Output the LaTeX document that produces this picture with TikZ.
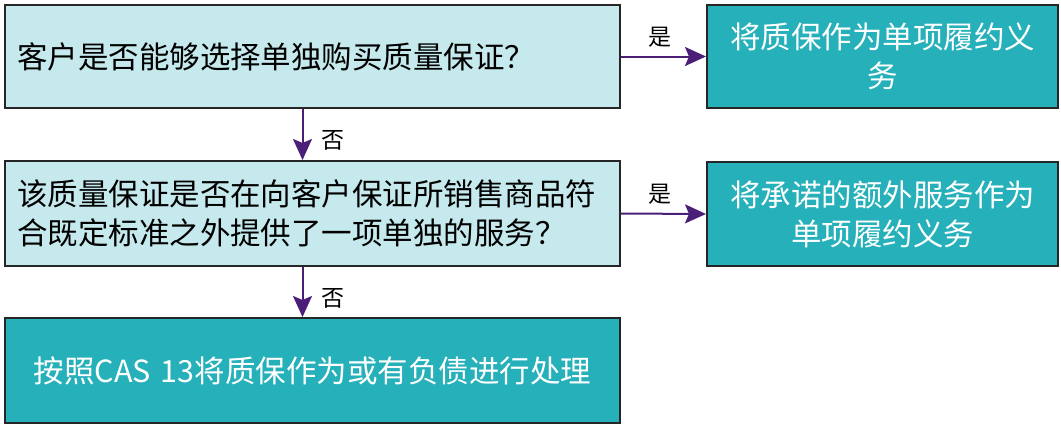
\documentclass[tikz,border=0pt]{standalone}
\usepackage{fontspec}
\setmainfont{Noto Sans CJK SC}
\usetikzlibrary{arrows.meta}
\definecolor{qfill}{RGB}{197,233,236}
\definecolor{afill}{RGB}{38,176,186}
\definecolor{linkc}{RGB}{75,30,120}
\begin{document}
\begin{tikzpicture}[x=1pt,y=-1pt,
			box/.style={draw=black!85, line width=2pt, inner xsep=12pt, inner ysep=0pt, font=\fontsize{30.5}{39}\selectfont},
			qbox/.style={box, fill=qfill, text=black, minimum width=615, text width=591, align=left},
			abox/.style={box, fill=afill, text=white, minimum width=351, text width=327, align=center},
			link/.style={draw=linkc, line width=2pt, -{Stealth[length=21pt,width=19pt,inset=4pt]}},
			lbl/.style={font=\fontsize{23}{26}\selectfont}]
			\useasboundingbox (0,0) rectangle (1061,432);
			\node[qbox, minimum height=103] (q1) at (312.5,56.5) {客户是否能够选择单独购买质量保证？};
			\node[abox, minimum height=103] (a1) at (882.5,56.5) {将质保作为单项履约义\\务};
			\node[qbox, minimum height=105] (q2) at (312.5,213.5) {该质量保证是否在向客户保证所销售商品符\\合既定标准之外提供了一项单独的服务？};
			\node[abox, minimum height=104] (a2) at (882.5,214) {将承诺的额外服务作为\\单项履约义务};
			\node[qbox, fill=afill, text=white, align=center, minimum height=105] (a3) at (312.5,370.5) {按照CAS 13将质保作为或有负债进行处理};
			\draw[link] (q1.east) -- (a1.west);
			\draw[link] ([xshift=-10pt]q1.south) -- ([xshift=-10pt]q2.north);
			\draw[link] (q2.east) -- (a2.west);
			\draw[link] ([xshift=-10pt]q2.south) -- ([xshift=-10pt]a3.north);
			\node[lbl] (y1) at (660,37) {是};
			\node[lbl] (n1) at (333,140) {否};
			\node[lbl] (y2) at (660,194) {是};
			\node[lbl] (n2) at (333,298) {否};
		\end{tikzpicture}
\end{document}
